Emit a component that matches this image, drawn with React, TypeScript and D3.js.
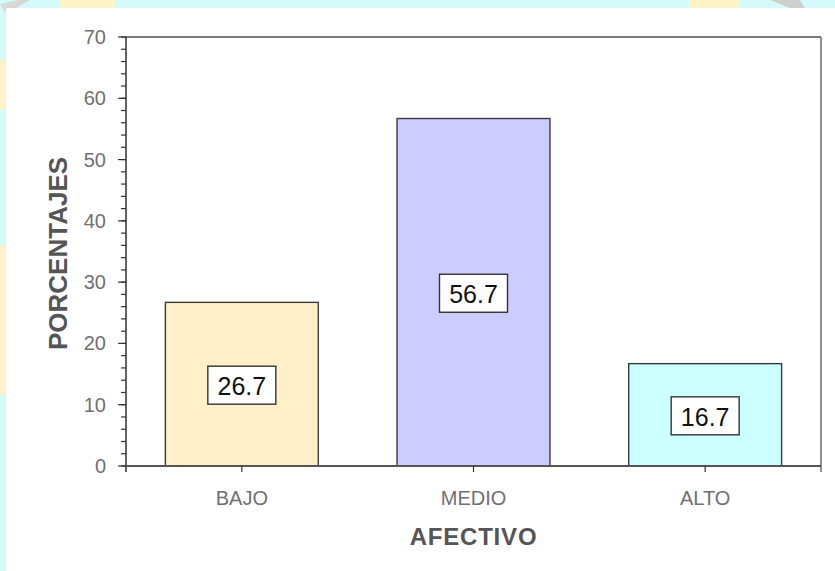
import React from "react";
import * as d3 from "d3";

const categories = ["BAJO", "MEDIO", "ALTO"];
const values = [26.7, 56.7, 16.7];
const barColors = ["#FFF0C9", "#CCCCFF", "#CCFFFF"];
const yTicks = [0, 10, 20, 30, 40, 50, 60, 70];
const yTitle = "PORCENTAJES";
const xTitle = "AFECTIVO";

const W = 835;
const H = 571;
const plot = { left: 126, right: 821, top: 37, bottom: 466 };
const FONT = "Arial, 'Liberation Sans', sans-serif";

export default function App() {
  const y = d3.scaleLinear().domain([0, 70]).range([plot.bottom, plot.top]);
  const x = d3
    .scaleBand<string>()
    .domain(categories)
    .range([plot.left, plot.right])
    .paddingInner(0.34)
    .paddingOuter(0.17);
  const minor = d3.range(0, 70.01, 2);

  return (
    <div style={{ position: "fixed", left: 0, top: 0, width: W, height: H }}>
      <svg width={W} height={H} style={{ display: "block" }}>
        {/* page backdrop */}
        <rect x={0} y={0} width={W} height={H} fill="#d4fafa" />
        <rect x={60} y={0} width={55} height={8} fill="#fbf4c6" />
        <rect x={690} y={0} width={50} height={8} fill="#fbf4c6" />
        <rect x={0} y={60} width={6} height={50} fill="#fbf4c6" />
        <rect x={0} y={245} width={6} height={150} fill="#fbf4c6" />
        <path d="M0,4 L18,0 L30,0 L6,14 Z" fill="#d8d8d8" />
        <path d="M770,0 L790,8 L805,8 L800,0 Z" fill="#cfcfcf" />
        <rect x={6} y={8} width={W - 6} height={H - 8} fill="#ffffff" />

        {/* frame */}
        <line x1={plot.left} x2={plot.right} y1={plot.top} y2={plot.top} stroke="#7a7a7a" strokeWidth={2} />
        <line x1={plot.right} x2={plot.right} y1={plot.top} y2={plot.bottom + 6} stroke="#6a6a6a" strokeWidth={1.5} />

        {/* bars */}
        {categories.map((c, i) => (
          <rect
            key={c}
            x={x(c)!}
            y={y(values[i])}
            width={x.bandwidth()}
            height={y(0) - y(values[i])}
            fill={barColors[i]}
            stroke="#3a3a3a"
            strokeWidth={1.4}
          />
        ))}

        {/* y axis */}
        <line x1={plot.left} x2={plot.left} y1={plot.top} y2={plot.bottom + 6} stroke="#222" strokeWidth={1.4} />
        {minor.map((v) => (
          <line key={"m" + v} x1={plot.left - 5} x2={plot.left} y1={y(v)} y2={y(v)} stroke="#333" strokeWidth={1.2} />
        ))}
        {yTicks.map((v) => (
          <g key={"t" + v}>
            <line x1={plot.left - 8} x2={plot.left} y1={y(v)} y2={y(v)} stroke="#333" strokeWidth={1.2} />
            <text
              x={plot.left - 20}
              y={y(v)}
              textAnchor="end"
              dominantBaseline="central"
              fontFamily={FONT}
              fontSize={20}
              fill="#707070"
            >
              {v}
            </text>
          </g>
        ))}

        {/* x axis */}
        <line x1={plot.left} x2={plot.right} y1={plot.bottom} y2={plot.bottom} stroke="#555" strokeWidth={2} />
        {categories.map((c) => {
          const cx = x(c)! + x.bandwidth() / 2;
          return (
            <g key={"x" + c}>
              <line x1={cx} x2={cx} y1={plot.bottom} y2={plot.bottom + 6} stroke="#333" strokeWidth={1.2} />
              <text
                x={cx}
                y={plot.bottom + 32}
                textAnchor="middle"
                dominantBaseline="central"
                fontFamily={FONT}
                fontSize={20}
                fill="#707070"
              >
                {c}
              </text>
            </g>
          );
        })}

        {/* value labels */}
        {categories.map((c, i) => {
          const cx = x(c)! + x.bandwidth() / 2;
          const cy = (y(values[i]) + y(0)) / 2 + 1;
          return (
            <g key={"v" + c}>
              <rect x={cx - 34} y={cy - 19} width={68} height={38} fill="#ffffff" stroke="#333" strokeWidth={1.4} />
              <text
                x={cx}
                y={cy + 1}
                textAnchor="middle"
                dominantBaseline="central"
                fontFamily={FONT}
                fontSize={25}
                fill="#111"
              >
                {values[i].toFixed(1)}
              </text>
            </g>
          );
        })}

        {/* axis titles */}
        <text
          transform={`translate(58,${(plot.top + plot.bottom) / 2 + 2}) rotate(-90)`}
          textAnchor="middle"
          dominantBaseline="central"
          fontFamily={FONT}
          fontWeight="bold"
          fontSize={26}
          fill="#555"
        >
          {yTitle}
        </text>
        <text
          x={(plot.left + plot.right) / 2}
          y={536}
          textAnchor="middle"
          dominantBaseline="central"
          fontFamily={FONT}
          fontWeight="bold"
          fontSize={24}
          letterSpacing={0.8}
          fill="#555"
        >
          {xTitle}
        </text>
      </svg>
    </div>
  );
}
